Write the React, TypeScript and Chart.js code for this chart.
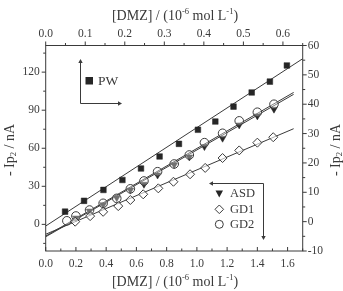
import React, { useEffect, useRef } from "react";
import { Chart, registerables } from "chart.js";

Chart.register(...registerables);

// PW series: top concentration axis, right current axis
const pwConc = [0.049, 0.097, 0.146, 0.194, 0.241, 0.288, 0.337, 0.385, 0.429, 0.475, 0.521, 0.567, 0.61];
const pwCurrent = [3.4, 7.1, 10.8, 14.2, 18.1, 22.2, 26.5, 31.3, 34.1, 39.2, 44.0, 47.7, 53.2];

// ASD, GD1, GD2 series: bottom concentration axis, left current axis
const asdConc = [0.2, 0.29, 0.38, 0.47, 0.56, 0.65, 0.74, 0.85, 0.95, 1.05, 1.17, 1.28, 1.4, 1.51];
const asdCurrent = [5, 10.5, 15.5, 21, 27, 31.6, 38.9, 47, 53.1, 61.3, 67.9, 78.4, 85.5, 90.8];
const gd1Conc = [0.195, 0.294, 0.38, 0.48, 0.56, 0.645, 0.745, 0.845, 0.955, 1.055, 1.17, 1.28, 1.4, 1.505];
const gd1Current = [2.1, 6.5, 9.9, 14.4, 19.2, 23.7, 28.4, 33.6, 39.5, 44.5, 52.3, 58.3, 64.4, 68.7];
const gd2Conc = [0.14, 0.2, 0.29, 0.38, 0.47, 0.56, 0.65, 0.74, 0.85, 0.95, 1.05, 1.17, 1.28, 1.4, 1.51];
const gd2Current = [2.8, 6.6, 11.3, 16.6, 20.5, 28, 34.2, 41.5, 47.6, 54.7, 64.4, 71.8, 81.6, 88.4, 94.7];

// Linear fits (end points)
const pwFitConc = [0, 0.65];
const pwFitCurrent = [-1.5, 55.5];
const asdFitConc = [0, 1.64];
const asdFitCurrent = [-9.8, 102.5];
const gd1FitConc = [0, 1.64];
const gd1FitCurrent = [-7.8, 75.4];
const gd2FitConc = [0, 1.64];
const gd2FitCurrent = [-9.2, 104];

// Axis ticks
const bottomTicks = [0, 0.2, 0.4, 0.6, 0.8, 1.0, 1.2, 1.4, 1.6];
const topTicks = [0, 0.1, 0.2, 0.3, 0.4, 0.5, 0.6];
const leftTicks = [0, 30, 60, 90, 120];
const rightTicks = [-10, 0, 10, 20, 30, 40, 50, 60];

const FONT = "'Liberation Serif', 'Times New Roman', serif";
const INK = "#3a3a3a";
const LINE = "#3a3a3a";

const zip = (xs: number[], ys: number[]) => xs.map((x, i) => ({ x, y: ys[i] }));

function drawArrowHead(ctx: CanvasRenderingContext2D, x: number, y: number, dir: "up" | "down" | "left" | "right") {
  const s = 4;
  const w = 2.2;
  ctx.beginPath();
  if (dir === "up") { ctx.moveTo(x, y); ctx.lineTo(x - w, y + s); ctx.lineTo(x + w, y + s); }
  if (dir === "down") { ctx.moveTo(x, y); ctx.lineTo(x - w, y - s); ctx.lineTo(x + w, y - s); }
  if (dir === "left") { ctx.moveTo(x, y); ctx.lineTo(x + s, y - w); ctx.lineTo(x + s, y + w); }
  if (dir === "right") { ctx.moveTo(x, y); ctx.lineTo(x - s, y - w); ctx.lineTo(x - s, y + w); }
  ctx.closePath();
  ctx.fill();
}

// Draws "[DMZ] / (10^-6 mol L^-1)" centred on cx
function drawConcTitle(ctx: CanvasRenderingContext2D, cx: number, baseline: number) {
  const parts: [string, boolean][] = [["[DMZ] / (10", false], ["-6", true], [" mol L", false], ["-1", true], [")", false]];
  const big = `14px ${FONT}`;
  const small = `8.5px ${FONT}`;
  let total = 0;
  parts.forEach(([t, sup]) => { ctx.font = sup ? small : big; total += ctx.measureText(t).width; });
  let x = cx - total / 2;
  ctx.textAlign = "left";
  ctx.textBaseline = "alphabetic";
  parts.forEach(([t, sup]) => {
    ctx.font = sup ? small : big;
    ctx.fillText(t, x, sup ? baseline - 6.5 : baseline);
    x += ctx.measureText(t).width;
  });
}

// Draws "- Ip2 / nA" rotated, centred on (cx, cy)
function drawCurrentTitle(ctx: CanvasRenderingContext2D, cx: number, cy: number) {
  const parts: [string, boolean][] = [["- Ip", false], ["2", true], [" / nA", false]];
  const big = `14px ${FONT}`;
  const small = `8.5px ${FONT}`;
  ctx.save();
  ctx.translate(cx, cy);
  ctx.rotate(-Math.PI / 2);
  let total = 0;
  parts.forEach(([t, sub]) => { ctx.font = sub ? small : big; total += ctx.measureText(t).width; });
  let x = -total / 2;
  ctx.textAlign = "left";
  ctx.textBaseline = "middle";
  parts.forEach(([t, sub]) => {
    ctx.font = sub ? small : big;
    ctx.fillText(t, x, sub ? 4 : 0);
    x += ctx.measureText(t).width;
  });
  ctx.restore();
}

const framePlugin = {
  id: "frameAxes",
  afterDraw(chart: any) {
    const ctx: CanvasRenderingContext2D = chart.ctx;
    const { left, right, top, bottom } = chart.chartArea;
    const sx = chart.scales.x;
    const sx2 = chart.scales.x2;
    const sy = chart.scales.y;
    const sy2 = chart.scales.y2;
    const major = 4;
    const minor = 2.5;
    ctx.save();
    ctx.strokeStyle = LINE;
    ctx.fillStyle = INK;
    ctx.lineWidth = 1;
    ctx.strokeRect(left, top, right - left, bottom - top);

    const tick = (x1: number, y1: number, x2: number, y2: number) => {
      ctx.beginPath();
      ctx.moveTo(x1, y1);
      ctx.lineTo(x2, y2);
      ctx.stroke();
    };

    ctx.font = `11.5px ${FONT}`;
    // bottom axis (ticks inward)
    ctx.textAlign = "center";
    ctx.textBaseline = "middle";
    for (let v = 0.1; v < 1.7; v += 0.2) { const p = sx.getPixelForValue(v); tick(p, bottom, p, bottom - minor); }
    bottomTicks.forEach((v) => {
      const p = sx.getPixelForValue(v);
      tick(p, bottom, p, bottom - major);
      ctx.fillText(v.toFixed(1), p, bottom + 13);
    });
    // top axis (ticks outward)
    for (let v = 0.05; v < 0.65; v += 0.1) { const p = sx2.getPixelForValue(v); tick(p, top, p, top - minor); }
    topTicks.forEach((v) => {
      const p = sx2.getPixelForValue(v);
      tick(p, top, p, top - major);
      ctx.fillText(v.toFixed(1), p, top - 12);
    });
    // left axis (ticks outward)
    ctx.textAlign = "right";
    for (let v = -15; v < 141; v += 30) { const p = sy.getPixelForValue(v); tick(left, p, left - minor, p); }
    leftTicks.forEach((v) => {
      const p = sy.getPixelForValue(v);
      tick(left, p, left - major, p);
      ctx.fillText(String(v), left - 6, p);
    });
    // right axis (ticks outward)
    ctx.textAlign = "left";
    for (let v = -5; v < 60; v += 10) { const p = sy2.getPixelForValue(v); tick(right, p, right + minor, p); }
    rightTicks.forEach((v) => {
      const p = sy2.getPixelForValue(v);
      tick(right, p, right + major, p);
      ctx.fillText(String(v), right + 5, p);
    });

    // axis titles
    drawConcTitle(ctx, 175, 20);
    drawConcTitle(ctx, 175, 286);
    drawCurrentTitle(ctx, 10, 150);
    drawCurrentTitle(ctx, 336, 150);

    // legend for PW (top / right axes)
    ctx.strokeStyle = LINE;
    ctx.fillStyle = LINE;
    tick(80.5, 103.5, 80.5, 61);
    tick(80.5, 103.5, 120, 103.5);
    drawArrowHead(ctx, 80.5, 59, "up");
    drawArrowHead(ctx, 122, 103.5, "right");
    ctx.fillStyle = "#262626";
    ctx.fillRect(85.5, 77, 7.5, 7.5);
    ctx.fillStyle = INK;
    ctx.font = `13.5px ${FONT}`;
    ctx.textAlign = "left";
    ctx.textBaseline = "middle";
    ctx.fillText("PW", 98, 81);

    // legend for ASD / GD1 / GD2 (bottom / left axes)
    ctx.fillStyle = LINE;
    tick(263.5, 183.5, 211, 183.5);
    tick(263.5, 183.5, 263.5, 237);
    drawArrowHead(ctx, 209, 183.5, "left");
    drawArrowHead(ctx, 263.5, 240, "down");
    // filled down triangle
    ctx.fillStyle = "#262626";
    ctx.beginPath();
    ctx.moveTo(215.5, 190.5);
    ctx.lineTo(223, 190.5);
    ctx.lineTo(219.25, 197.5);
    ctx.closePath();
    ctx.fill();
    // open diamond
    ctx.strokeStyle = LINE;
    ctx.beginPath();
    ctx.moveTo(219.3, 205);
    ctx.lineTo(223.6, 209.3);
    ctx.lineTo(219.3, 213.6);
    ctx.lineTo(215, 209.3);
    ctx.closePath();
    ctx.stroke();
    // open circle
    ctx.beginPath();
    ctx.arc(219.3, 224.3, 4, 0, Math.PI * 2);
    ctx.stroke();
    ctx.fillStyle = INK;
    ctx.font = `12.5px ${FONT}`;
    ctx.fillText("ASD", 230, 194);
    ctx.fillText("GD1", 230, 209.5);
    ctx.fillText("GD2", 230, 224.5);
    ctx.restore();
  },
};

export default function App() {
  const ref = useRef<HTMLCanvasElement | null>(null);

  useEffect(() => {
    document.body.style.margin = "0";
    if (!ref.current) return;
    const fitLine = (data: { x: number; y: number }[], xAxisID: string, yAxisID: string) => ({
      type: "line" as const,
      data,
      xAxisID,
      yAxisID,
      showLine: true,
      borderColor: LINE,
      borderWidth: 1,
      pointRadius: 0,
      fill: false,
      order: 5,
    });
    const chart = new Chart(ref.current, {
      type: "scatter",
      data: {
        datasets: [
          fitLine(zip(pwFitConc, pwFitCurrent), "x2", "y2"),
          fitLine(zip(asdFitConc, asdFitCurrent), "x", "y"),
          fitLine(zip(gd1FitConc, gd1FitCurrent), "x", "y"),
          fitLine(zip(gd2FitConc, gd2FitCurrent), "x", "y"),
          {
            label: "PW",
            data: zip(pwConc, pwCurrent),
            xAxisID: "x2",
            yAxisID: "y2",
            pointStyle: "rect",
            pointRadius: 4,
            backgroundColor: "#262626",
            borderColor: "#262626",
            borderWidth: 0.5,
            order: 1,
          },
          {
            label: "ASD",
            data: zip(asdConc, asdCurrent),
            xAxisID: "x",
            yAxisID: "y",
            pointStyle: "triangle",
            rotation: 180,
            pointRadius: 4,
            backgroundColor: "#262626",
            borderColor: "#262626",
            borderWidth: 0.5,
            order: 2,
          },
          {
            label: "GD1",
            data: zip(gd1Conc, gd1Current),
            xAxisID: "x",
            yAxisID: "y",
            pointStyle: "rectRot",
            pointRadius: 4.5,
            backgroundColor: "rgba(255,255,255,0.6)",
            borderColor: LINE,
            borderWidth: 1,
            order: 1,
          },
          {
            label: "GD2",
            data: zip(gd2Conc, gd2Current),
            xAxisID: "x",
            yAxisID: "y",
            pointStyle: "circle",
            pointRadius: 4.3,
            backgroundColor: "rgba(255,255,255,0.35)",
            borderColor: LINE,
            borderWidth: 1,
            order: 1,
          },
        ],
      },
      options: {
        animation: false,
        responsive: false,
        maintainAspectRatio: false,
        devicePixelRatio: 1,
        layout: { padding: { left: 45.7, right: 40.3, top: 45.5, bottom: 40 } },
        plugins: { legend: { display: false }, tooltip: { enabled: false } },
        scales: {
          x: { type: "linear", position: "bottom", min: 0, max: 1.7, display: false },
          x2: { type: "linear", position: "top", min: 0, max: 0.65, display: false },
          y: { type: "linear", position: "left", min: -21, max: 141, display: false },
          y2: { type: "linear", position: "right", min: -10, max: 60, display: false },
        },
      },
      plugins: [framePlugin],
    });
    return () => chart.destroy();
  }, []);

  return (
    <div style={{ position: "absolute", left: 0, top: 0, width: 343, height: 291, background: "#fff" }}>
      <canvas ref={ref} width={343} height={291} style={{ width: 343, height: 291 }} />
    </div>
  );
}
